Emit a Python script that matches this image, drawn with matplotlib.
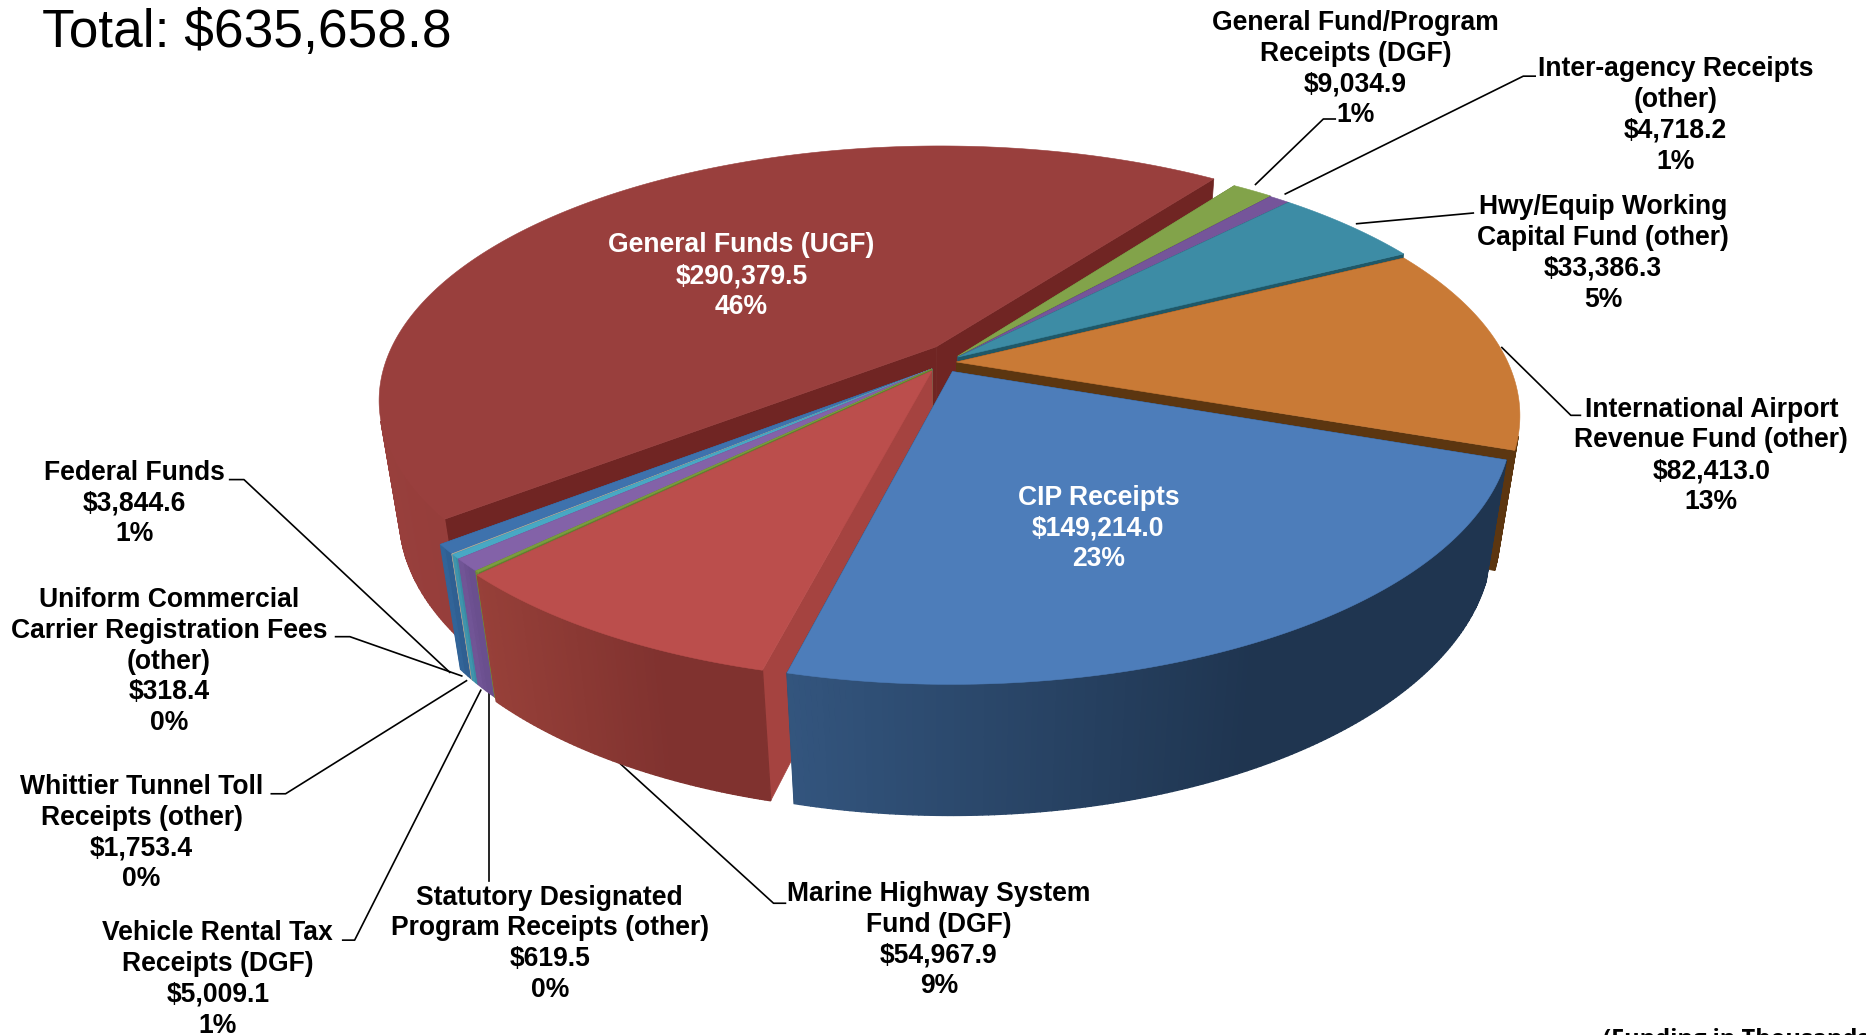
import numpy as np
import matplotlib
matplotlib.use("Agg")
import matplotlib.pyplot as plt
from matplotlib.colors import to_rgb

categories = ["General Fund/Program\nReceipts (DGF)", "Inter-agency Receipts\n(other)",
              "Hwy/Equip Working\nCapital Fund (other)", "International Airport\nRevenue Fund (other)",
              "CIP Receipts", "Marine Highway System\nFund (DGF)",
              "Statutory Designated\nProgram Receipts (other)", "Vehicle Rental Tax\nReceipts (DGF)",
              "Whittier Tunnel Toll\nReceipts (other)", "Uniform Commercial\nCarrier Registration Fees\n(other)",
              "Federal Funds", "General Funds (UGF)"]
values = [9034.9, 4718.2, 33386.3, 82413.0, 149214.0, 54967.9, 619.5, 5009.1, 1753.4, 318.4, 3844.6, 290379.5]
percents = [1, 1, 5, 13, 23, 9, 0, 1, 0, 0, 1, 46]
top_colors = ["#82a34a", "#75559a", "#3d8ca5", "#c97a36", "#4d7dba", "#bb4e4c",
              "#7b9d3f", "#8362a8", "#48a8c4", "#a8a8a0", "#3e72ad", "#993f3d"]
side_colors = ["#5f7a32", "#543a78", "#1f5868", "#5c3610", "#1f3550", "#a54340",
               "#62802f", "#6a4f8e", "#3a8ba3", "#909088", "#305f92", "#702523"]
wall_left = ["#6d8a3c", "#5f4582", "#2f6f85", "#8a5420", "#33557e", "#974039",
             "#6f8c38", "#75589a", "#44a0b8", "#a0a098", "#35689e", "#983f3c"]
wall_right = ["#6d8a3c", "#5f4582", "#2f6f85", "#5c3610", "#1f3550", "#80322f",
              "#6f8c38", "#6a4f8e", "#3a8ba3", "#909088", "#2f5f92", "#863432"]
offset_x = [0, 0, 0, -.003, -.01, -.047, -.047, -.047, -.047, -.047, -.047, -.04]
offset_y = [.012, .008, .008, -.012, -.05, -.048, -.04, -.04, -.04, -.04, -.04, .05]
radius = [1, 1, 1, 1, .985, .98, .98, .98, .98, .98, .98, 1]
draw_order = [11, 0, 1, 2, 3, 10, 9, 8, 7, 6, 5, 4]
label_x = [1139, 1408, 1347, 1438, 923, 789, 462, 183, 119, 142, 113, 623]
label_y = [58, 97, 213, 383, 444, 790, 793, 823, 700, 556, 423, 232]
label_color = ["k", "k", "k", "k", "w", "k", "k", "k", "k", "k", "k", "w"]
leader_x = [[1055, 1112, 1122], [1080, 1280, 1290], [1140, 1238], [1262, 1320, 1328], None,
            [516, 650, 660], [411, 411], [404, 298, 288], [392, 240, 228], [388, 294, 282], [378, 205, 193], None]
leader_y = [[155, 100, 100], [163, 64, 64], [188, 179], [292, 349, 349], None,
            [637, 759, 759], [582, 740], [580, 790, 790], [572, 667, 667], [568, 535, 535], [565, 403, 403], None]

S = 1866 / 1568
CX, CY, R, RY, RZ, A, B = 958, 359, 550, 247, 119, .207, .035
START = 54.0

def project(x, y, z=0.0):
    d = 1 + A * y - B * z
    return CX + R * x / d, CY - (RY * y + RZ * z) / d

fig = plt.figure(figsize=(18.66, 10.35), dpi=100)
ax = fig.add_axes([0, 0, 1, 1])
ax.set_xlim(0, 1866); ax.set_ylim(1035, 0); ax.axis("off")

vals = np.array(values)
sweep = vals / vals.sum() * 360
ends = START - np.cumsum(sweep)
starts = ends + sweep

def mix(c1, c2, t):
    return tuple(np.array(to_rgb(c1)) * (1 - t) + np.array(to_rgb(c2)) * t)

for i in draw_order:
    th = np.radians(np.linspace(starts[i], ends[i], max(4, int(sweep[i] * 2))))
    ox, oy = offset_x[i], offset_y[i]
    xs, ys = ox + radius[i] * np.cos(th), oy + radius[i] * np.sin(th)
    for e in (0, -1):
        px = [ox, xs[e], xs[e], ox]; py = [oy, ys[e], ys[e], oy]; pz = [0, 0, -1, -1]
        pts = [project(a, b, c) for a, b, c in zip(px, py, pz)]
        ax.fill(*zip(*pts), color=side_colors[i], lw=.5, zorder=1)
    xt, yt = project(xs, ys, 0.0)
    xb, yb = project(xs, ys, -1.0)
    for k in range(len(th) - 1):
        qx = [xt[k], xt[k + 1], xb[k + 1], xb[k]]
        qy = [yt[k], yt[k + 1], yb[k + 1], yb[k]]
        area = sum(qx[j] * qy[(j + 1) % 4] - qx[(j + 1) % 4] * qy[j] for j in range(4))
        if area >= 0:  # outer wall facing away from the viewer
            continue
        t = np.clip((xt[k] - xt.min()) / max(1, (xt.max() - xt.min()) * .65), 0, 1)
        ax.fill(qx, qy, color=mix(wall_left[i], wall_right[i], t), lw=1.0, zorder=1)
    ax0, ay0 = project(ox, oy, 0.0)
    ax.fill(np.r_[ax0, xt], np.r_[ay0, yt], color=top_colors[i], lw=.4, zorder=1)

font = dict(family="Liberation Sans", fontweight="bold", fontsize=19.1, ha="center", va="center",
            multialignment="center", linespacing=1.24)
for i in range(len(vals)):
    if leader_x[i] is not None:
        ax.plot(np.array(leader_x[i]) * S, np.array(leader_y[i]) * S, color="k", lw=1.2, zorder=0.5)
    txt = f"{categories[i]}\n${values[i]:,.1f}\n{percents[i]}%"
    ax.text(label_x[i] * S, label_y[i] * S, txt, color=label_color[i], zorder=3, **font)

ax.text(42, 33, "Total: $635,658.8", family="Liberation Sans", fontsize=38.3, ha="left", va="center")
ax.text(1603, 1028, "(Funding in Thousands)", family="Open Sans", fontweight="bold", fontsize=17,
        ha="left", va="top", clip_on=False)
fig.savefig("out.png", dpi=100)
